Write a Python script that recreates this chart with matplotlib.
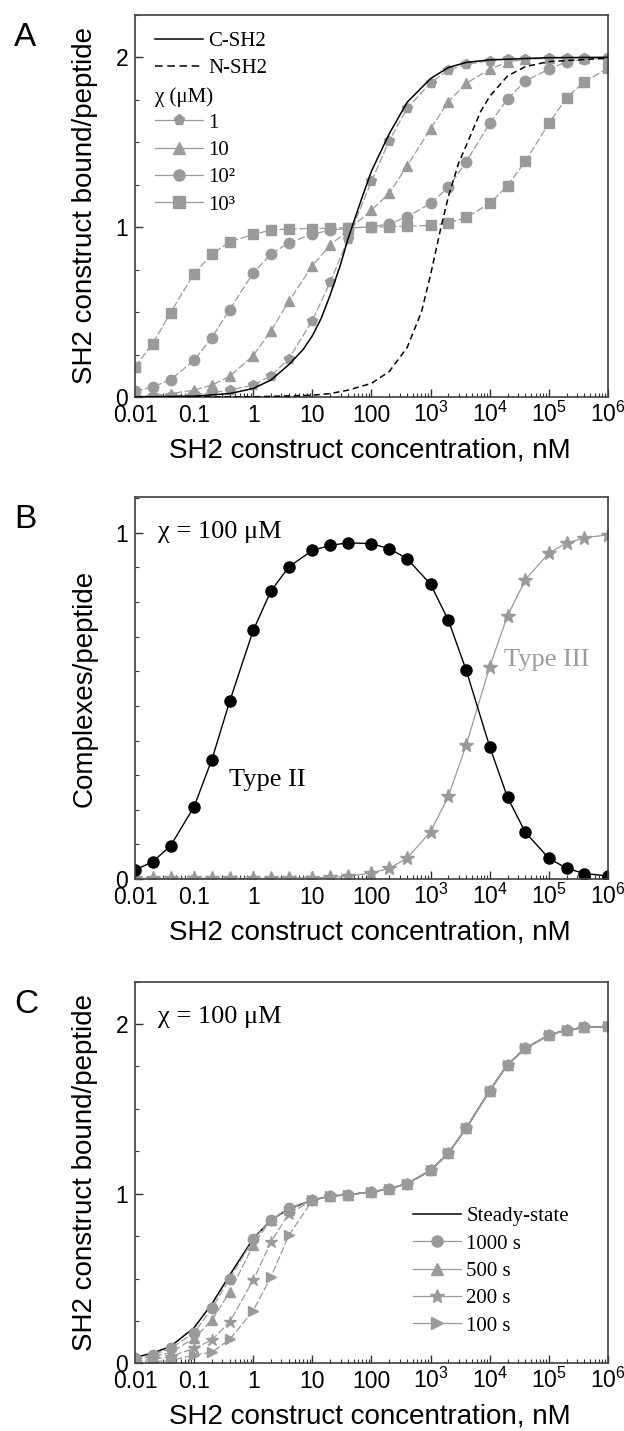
import matplotlib
matplotlib.use('Agg')
import matplotlib.pyplot as plt
from matplotlib.lines import Line2D
from matplotlib.ticker import FixedLocator, FixedFormatter, LogLocator, MultipleLocator, NullFormatter

plt.rcParams['font.family'] = ['Liberation Sans', 'DejaVu Sans']
plt.rcParams['mathtext.fontset'] = 'custom'
plt.rcParams['mathtext.rm'] = 'Liberation Sans'
plt.rcParams['mathtext.it'] = 'Liberation Sans:italic'

SERIF = ['Liberation Serif', 'DejaVu Serif']
GRAY = '#9a9a9a'
DASH = (0, (6, 2))

# concentrations (nM) where the markers sit
conc = [0.01, 0.02, 0.04, 0.1, 0.2, 0.4, 1, 2, 4, 10, 20, 40, 100, 200, 400,
        1e3, 2e3, 4e3, 1e4, 2e4, 4e4, 1e5, 2e5, 4e5, 1e6]
xticks = [0.01, 0.1, 1, 10, 100, 1e3, 1e4, 1e5, 1e6]
xticklabels = ['0.01', '0.1', '1', '10', '100', '$10^3$', '$10^4$', '$10^5$', '$10^6$']

# panel A - smooth curves for the single domains
csh2_x = [0.01, 0.1, 0.4, 1, 2, 4, 7, 10, 14, 20, 30, 40, 67, 100, 200, 400,
          1e3, 2e3, 4e3, 1e4, 1e5, 1e6]
csh2_y = [0.0005, 0.005, 0.02, 0.05, 0.1, 0.19, 0.28, 0.36, 0.46, 0.6, 0.78, 0.93,
          1.16, 1.33, 1.55, 1.735, 1.875, 1.94, 1.97, 1.985, 1.998, 2.0]
nsh2_x = [0.01, 1, 10, 20, 40, 100, 200, 400, 700, 1000, 1500, 2000, 3000, 4000,
          7000, 1e4, 2e4, 4e4, 1e5, 1e6]
nsh2_y = [0, 0.001, 0.01, 0.02, 0.04, 0.08, 0.15, 0.29, 0.5, 0.72, 1.0, 1.18, 1.38,
          1.48, 1.68, 1.77, 1.89, 1.945, 1.975, 1.995]

# panel A - tandem construct, chi = 1, 10, 100, 1000 uM
chi_labels = ['1', '10', '10²', '10³']
chi_markers = ['p', '^', 'o', 's']
chi_1 = [0.002, 0.004, 0.008, 0.015, 0.025, 0.04, 0.07, 0.125, 0.225, 0.45, 0.675,
         0.93, 1.27, 1.51, 1.70, 1.85, 1.925, 1.958, 1.98, 1.99, 1.993, 1.995,
         1.997, 1.998, 1.999]
chi_10 = [0.003, 0.008, 0.02, 0.04, 0.069, 0.122, 0.244, 0.389, 0.564, 0.772, 0.894,
          0.982, 1.1, 1.2, 1.36, 1.58, 1.739, 1.847, 1.929, 1.974, 1.988, 1.995,
          1.997, 1.998, 1.999]
chi_100 = [0.035, 0.059, 0.102, 0.216, 0.35, 0.515, 0.731, 0.841, 0.908, 0.959, 0.982,
           0.994, 1.002, 1.02, 1.06, 1.14, 1.234, 1.385, 1.611, 1.754, 1.86, 1.931,
           1.974, 1.988, 1.994]
chi_1000 = [0.177, 0.314, 0.497, 0.727, 0.841, 0.914, 0.957, 0.982, 0.99, 0.992, 0.994,
            0.996, 1.0, 1.002, 1.006, 1.01, 1.025, 1.057, 1.14, 1.244, 1.387, 1.611,
            1.762, 1.857, 1.935]

# panel B - complexes per peptide, chi = 100 uM
type2 = [0.026, 0.05, 0.096, 0.209, 0.345, 0.513, 0.718, 0.832, 0.901, 0.949, 0.963,
         0.971, 0.968, 0.954, 0.925, 0.851, 0.747, 0.603, 0.382, 0.236, 0.135, 0.06,
         0.031, 0.016, 0.009]
type3 = [0.002, 0.002, 0.002, 0.002, 0.002, 0.002, 0.002, 0.002, 0.003, 0.004, 0.005,
         0.008, 0.018, 0.031, 0.06, 0.137, 0.239, 0.387, 0.613, 0.76, 0.864, 0.941,
         0.97, 0.985, 0.994]

# panel C - time courses, chi = 100 uM
steady = [0.035, 0.06, 0.1, 0.21, 0.35, 0.52, 0.735, 0.845, 0.91, 0.962, 0.985, 0.994,
          1.01, 1.029, 1.059, 1.137, 1.239, 1.386, 1.608, 1.761, 1.857, 1.935, 1.965,
          1.98, 1.986]
t1000 = [0.03, 0.05, 0.088, 0.18, 0.324, 0.5, 0.73, 0.847, 0.916, 0.965, 0.986, 0.994,
         1.01, 1.029, 1.059, 1.137, 1.239, 1.386, 1.608, 1.761, 1.857, 1.935, 1.965,
         1.98, 1.986]
t500 = [0.02, 0.04, 0.063, 0.147, 0.255, 0.42, 0.696, 0.847, 0.906, 0.962, 0.986, 0.994,
        1.01, 1.029, 1.059, 1.137, 1.239, 1.386, 1.608, 1.761, 1.857, 1.935, 1.965,
        1.98, 1.986]
t200 = [0.01, 0.025, 0.04, 0.088, 0.137, 0.245, 0.49, 0.716, 0.882, 0.96, 0.986, 0.994,
        1.01, 1.029, 1.059, 1.137, 1.239, 1.386, 1.608, 1.761, 1.857, 1.935, 1.965,
        1.98, 1.986]
t100 = [0.005, 0.01, 0.016, 0.049, 0.065, 0.141, 0.31, 0.51, 0.755, 0.96, 0.986, 0.994,
        1.01, 1.029, 1.059, 1.137, 1.239, 1.386, 1.608, 1.761, 1.857, 1.935, 1.965,
        1.98, 1.986]
time_labels = ['1000 s', '500 s', '200 s', '100 s']
time_markers = ['o', '^', '*', '>']


def style_axes(ax, ymax, ymajor, yminor):
    ax.set_xscale('log')
    ax.set_xlim(0.01, 1e6)
    ax.set_ylim(0, ymax)
    ax.xaxis.set_major_locator(FixedLocator(xticks))
    ax.xaxis.set_major_formatter(FixedFormatter(xticklabels))
    ax.xaxis.set_minor_locator(LogLocator(base=10, subs=range(2, 10), numticks=20))
    ax.xaxis.set_minor_formatter(NullFormatter())
    ax.yaxis.set_major_locator(FixedLocator(ymajor))
    ax.yaxis.set_major_formatter(FixedFormatter([str(v) for v in ymajor]))
    ax.yaxis.set_minor_locator(MultipleLocator(yminor))
    ax.tick_params(which='both', direction='in', top=False, right=False,
                   color='#333333', labelsize=16.5)
    ax.tick_params(which='major', length=6, width=1)
    ax.tick_params(which='minor', length=3, width=0.8)
    ax.tick_params(axis='x', pad=18)
    ax.tick_params(axis='y', pad=5)
    for lab in ax.get_xticklabels():
        lab.set_va('baseline')
    for sp in ax.spines.values():
        sp.set_linewidth(1.2)
        sp.set_color('#404040')
    ax.set_xlabel('SH2 construct concentration, nM', fontsize=20)
    ax.xaxis.set_label_coords(0.497, -0.105)


fig = plt.figure(figsize=(6.24, 14.31), dpi=100)

# ---- A
axA = fig.add_axes([0.2163, 0.7226, 0.758, 0.267])
axA.plot(csh2_x, csh2_y, color='black', lw=1.1, zorder=3)
axA.plot(nsh2_x, nsh2_y, color='black', lw=1.1, ls=(0, (4, 2.5)), zorder=3)
for ys, mk in zip([chi_1000, chi_100, chi_10, chi_1], ['s', 'o', '^', 'p']):
    axA.plot(conc, ys, marker=mk, ms=7.5, color=GRAY, mec=GRAY, lw=0.9, ls=DASH)
style_axes(axA, 2.25, [0, 1, 2], 0.25)
axA.set_ylabel('SH2 construct bound/peptide', fontsize=20)
axA.yaxis.set_label_coords(-0.078, 0.5)

hA = [Line2D([], [], color='black', lw=1.1),
      Line2D([], [], color='black', lw=1.1, ls=(0, (5, 3))),
      Line2D([], [], ls='none')]
hA += [Line2D([], [], color=GRAY, mec=GRAY, lw=0.9, marker=m, ms=8) for m in chi_markers]
axA.legend(hA, ['C-SH2', 'N-SH2', ' '] + chi_labels, loc='upper left',
           bbox_to_anchor=(0.042, 0.957), frameon=False, borderpad=0, borderaxespad=0,
           handlelength=2.3, handletextpad=0.25, labelspacing=0.37,
           prop={'family': SERIF, 'size': 15})
axA.text(0.042, 0.784, 'χ (μM)', transform=axA.transAxes, family=SERIF, fontsize=15,
         va='center', ha='left')

# ---- B
axB = fig.add_axes([0.2163, 0.3857, 0.758, 0.267])
axB.plot(conc, type3, marker='*', ms=10, color=GRAY, mec=GRAY, lw=0.9)
axB.plot(conc, type2, marker='o', ms=8, color='black', lw=1.0)
style_axes(axB, 1.103, [0, 1], 0.1)
axB.set_ylabel('Complexes/peptide', fontsize=20)
axB.yaxis.set_label_coords(-0.078, 0.5)
axB.text(0.049, 0.908, 'χ = 100 μM', transform=axB.transAxes, family=SERIF,
         fontsize=19, va='center', ha='left')
axB.text(0.385, 0.286, 'Type II', family=SERIF, fontsize=19, va='center', ha='left')
axB.text(17600, 0.632, 'Type III', family=SERIF, fontsize=19, va='center', ha='left',
         color=GRAY)

# ---- C
axC = fig.add_axes([0.2163, 0.0473, 0.758, 0.2667])
axC.plot(conc, steady, color='black', lw=1.1)
for ys, mk in zip([t1000, t500, t200, t100], time_markers):
    axC.plot(conc, ys, marker=mk, ms=9 if mk == '*' else 7.5, color=GRAY, mec=GRAY,
             lw=0.9, ls=DASH)
style_axes(axC, 2.25, [0, 1, 2], 0.25)
axC.set_ylabel('SH2 construct bound/peptide', fontsize=20)
axC.yaxis.set_label_coords(-0.078, 0.5)
axC.text(0.049, 0.908, 'χ = 100 μM', transform=axC.transAxes, family=SERIF,
         fontsize=19, va='center', ha='left')
hC = [Line2D([], [], color='black', lw=1.1)]
hC += [Line2D([], [], color=GRAY, mec=GRAY, lw=0.9, marker=m,
              ms=10 if m == '*' else 8) for m in time_markers]
axC.legend(hC, ['Steady-state'] + time_labels, loc='upper left',
           bbox_to_anchor=(0.588, 0.41), frameon=False, borderpad=0, borderaxespad=0,
           handlelength=2.3, handletextpad=0.25, labelspacing=0.37,
           prop={'family': SERIF, 'size': 15})

# panel letters
fig.text(14 / 624, 1 - 22 / 1431, 'A', fontsize=24, va='top', ha='left')
fig.text(14 / 624, 1 - 504 / 1431, 'B', fontsize=24, va='top', ha='left')
fig.text(14 / 624, 1 - 989 / 1431, 'C', fontsize=24, va='top', ha='left')

fig.savefig('out.png', dpi=100)
